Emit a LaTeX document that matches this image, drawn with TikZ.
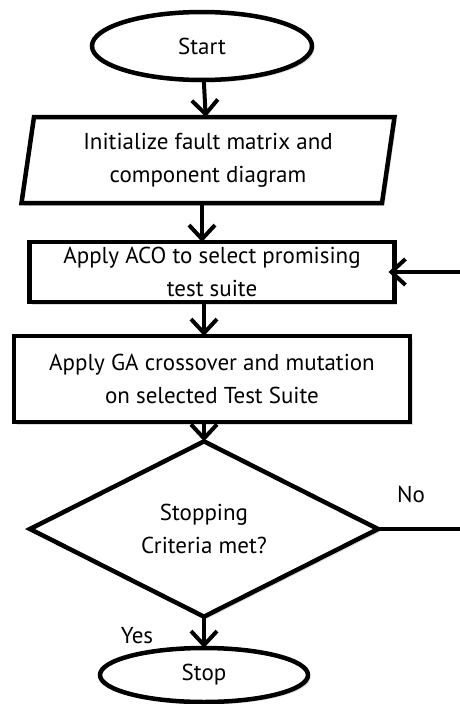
\documentclass[tikz,border=0pt]{standalone}
\usepackage{fontspec}
\setmainfont{PT Sans}
\usetikzlibrary{shapes.geometric, arrows.meta, shadows}

\begin{document}
\begin{tikzpicture}[x=1pt, y=-1pt, line width=4pt,
    >={Straight Barb[length=14pt, width=26pt, line width=4pt]},
    every node/.style={font=\fontsize{23}{33}\selectfont, align=center},
    shade/.style={drop shadow={shadow xshift=2.5pt, shadow yshift=-2.5pt, fill=gray!55}},
    term/.style={draw, ellipse, fill=white, line width=4.5pt, outer sep=0pt, shade},
    io/.style={draw, trapezium, trapezium left angle=77, trapezium right angle=103,
        trapezium stretches body, fill=white, line width=4.5pt, outer sep=0pt, shade, inner sep=0pt},
    proc/.style={draw, rectangle, fill=white, line width=4.5pt, outer sep=0pt, shade, inner sep=0pt},
    decide/.style={draw, diamond, fill=white, line width=4.5pt, outer sep=0pt, shade, inner sep=0pt}]
    \useasboundingbox (0,0) rectangle (460,704);
    \node [term, minimum width=220, minimum height=68] (start) at (202,46) {Start};
    \node [io, minimum width=373, minimum height=86] (init) at (208,160)
        {Initialize fault matrix and\\component diagram};
    \node [proc, minimum width=365, minimum height=60] (aco) at (212,272)
        {Apply ACO to select promising\\test suite};
    \node [proc, minimum width=396, minimum height=86] (ga) at (212,379)
        {Apply GA crossover and mutation\\on selected Test Suite};
    \node [decide, minimum width=348, minimum height=149] (crit) at (204,529)
        {Stopping\\Criteria met?};
    \node [term, minimum width=208, minimum height=54] (stop) at (204,675) {Stop};
    \node (yes) at (137,636) {Yes};
    \node (no) at (411,494) {No};
    \coordinate (loop) at (467,529);
    \draw [->] (start) -- (init);
    \draw [->] (init.south -| start) -- (aco.north -| start);
    \draw [->] (aco.south -| crit) -- (ga.north -| crit);
    \draw [->] (ga.south -| crit) -- (crit.north);
    \draw [->] (crit.south) -- (stop.north);
    \draw [->, shorten >=-6pt] (crit.east) -- (loop) |- (aco.east);
\end{tikzpicture}
\end{document}
